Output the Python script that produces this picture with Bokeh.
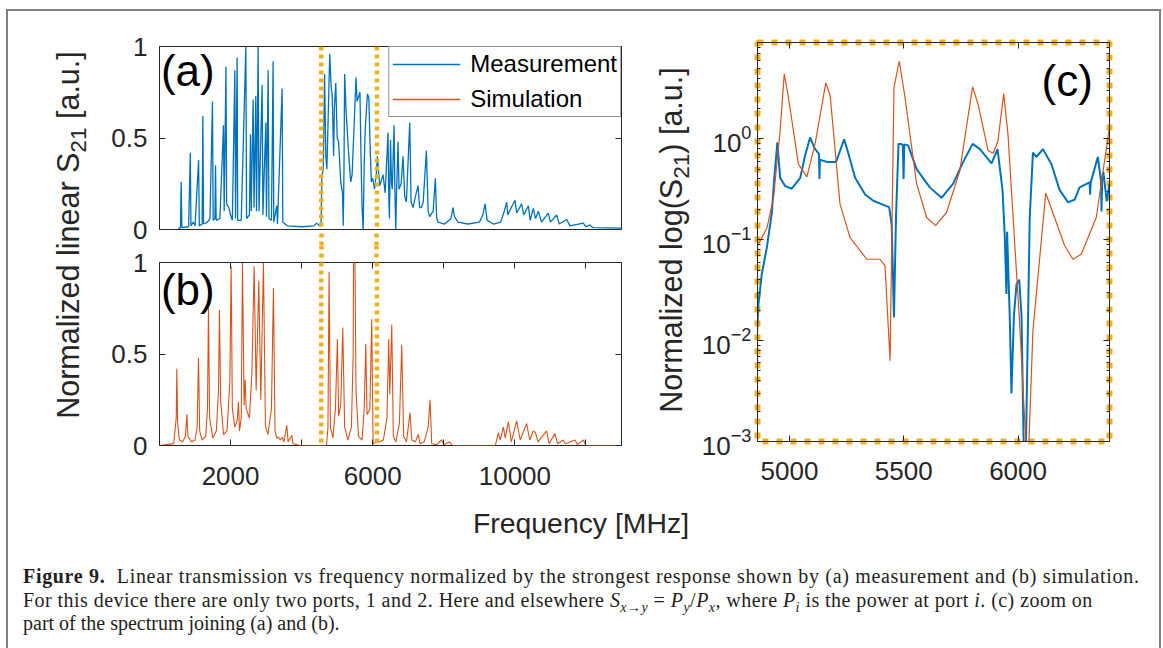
from bokeh.plotting import figure
from bokeh.models import (Span, Label, Legend, LegendItem, LinearAxis, LogAxis, FixedTicker,
                          CustomJSTickFormatter, Range1d, Div, Spacer)
from bokeh.layouts import row, column
from bokeh.embed import file_html
from bokeh.resources import INLINE

# ---------------- data ----------------
# (a) measured linear S21, normalized
a_freq = [530, 590, 610, 630, 820, 866, 885, 950, 1000, 1100, 1120, 1200, 1220, 1240, 1350, 1420,
          1491, 1510, 1560, 1576, 1595, 1700, 1800, 1820, 1870, 1890, 1950, 2000, 2050, 2120, 2140,
          2185, 2200, 2300, 2430, 2450, 2530, 2560, 2580, 2635, 2660, 2710, 2730, 2776, 2800, 2888,
          2910, 2992, 3010, 3057, 3080, 3150, 3197, 3215, 3300, 3320, 3450, 3470, 3600, 4000, 4350,
          4420, 4500, 4545, 4570, 4610, 4645, 4680, 4710, 4790, 4830, 4860, 4900, 4920, 4960, 5000,
          5040, 5100, 5150, 5170, 5190, 5210, 5250, 5310, 5380, 5420, 5530, 5560, 5640, 5670, 5700,
          5730, 5760, 5790, 5850, 5890, 5920, 5960, 6000, 6050, 6100, 6130, 6170, 6200, 6290, 6350,
          6430, 6450, 6470, 6500, 6530, 6550, 6600, 6625, 6648, 6670, 6713, 6740, 6800, 6853, 6900,
          6947, 7041, 7080, 7135, 7200, 7275, 7320, 7369, 7420, 7510, 7560, 7603, 7700, 7762, 7800,
          7838, 8025, 8200, 8259, 8300, 8400, 8681, 9000, 9100, 9160, 9220, 9400, 9600, 9700, 9770,
          9800, 9900, 10003, 10050, 10190, 10250, 10380, 10430, 10518, 10580, 10660, 10750, 10940,
          11000, 11175, 11250, 11457, 11550, 11925, 12000, 12110, 12200, 13000]
a_norm = [0.005, 0.01, 0.26, 0.01, 0.015, 0.42, 0.02, 0.04, 0.02, 0.38, 0.02, 0.03, 0.62, 0.03, 0.04, 0.06,
          0.70, 0.05, 0.06, 0.35, 0.05, 0.06, 0.57, 0.10, 0.89, 0.14, 0.12, 0.08, 0.05, 0.87, 0.06,
          0.94, 0.05, 0.05, 1.0, 0.06, 0.08, 0.52, 0.10, 0.71, 0.12, 0.73, 0.10, 1.0, 0.10, 0.79,
          0.08, 0.585, 0.07, 0.87, 0.06, 0.05, 0.92, 0.04, 0.13, 0.03, 0.77, 0.04, 0.02, 0.015, 0.02,
          0.035, 0.02, 0.02, 0.30, 0.33, 0.85, 0.40, 0.33, 0.96, 0.78, 0.73, 0.40, 0.66, 0.80, 0.50,
          0.48, 0.26, 0.20, 0.02, 0.30, 0.85, 0.65, 0.45, 0.26, 0.30, 0.83, 0.70, 0.75, 0.40, 0.12,
          0.0, 0.35, 0.55, 0.74, 0.72, 0.50, 0.26, 0.28, 0.22, 0.30, 0.40, 0.30, 0.24, 0.30, 0.20,
          0.53, 0.20, 0.06, 0.49, 0.25, 0.22, 0.57, 0.20, 0.0, 0.20, 0.48, 0.22, 0.25, 0.40, 0.18,
          0.15, 0.585, 0.15, 0.12, 0.18, 0.24, 0.12, 0.12, 0.15, 0.43, 0.10, 0.07, 0.10, 0.28, 0.06,
          0.04, 0.03, 0.06, 0.12, 0.07, 0.04, 0.03, 0.04, 0.08, 0.14, 0.05, 0.03, 0.04, 0.10, 0.15,
          0.08, 0.12, 0.16, 0.09, 0.14, 0.08, 0.13, 0.05, 0.115, 0.06, 0.10, 0.04, 0.09,
          0.04, 0.08, 0.03, 0.055, 0.02, 0.035, 0.015, 0.025, 0.01, 0.008]

# (b) simulated linear S21, normalized
b_freq = [0, 400, 470, 488, 510, 560, 650, 730, 770, 800, 900, 1000, 1060, 1097, 1130, 1200, 1300,
          1350, 1378, 1410, 1500, 1600, 1660, 1687, 1720, 1800, 1900, 1980, 2016, 2050, 2120, 2190,
          2222, 2250, 2300, 2335, 2380, 2410, 2440, 2530, 2600, 2663, 2720, 2794, 2850, 2925, 2980,
          3050, 3150, 3206, 3250, 3300, 3350, 3400, 3450, 3500, 3582, 3620, 3722, 3760, 3850, 3950,
          4700, 4740, 4772, 4810, 4880, 4950, 5006, 5040, 5100, 5157, 5210, 5300, 5400, 5450, 5460,
          5500, 5530, 5600, 5700, 5760, 5804, 5840, 5920, 5972, 6010, 6100, 6200, 6300, 6400, 6451,
          6480, 6535, 6580, 6650, 6750, 6816, 6870, 6950, 7050, 7100, 7200, 7280, 7330, 7450, 7560,
          7613, 7660, 7800, 7934, 8000, 8160, 8250, 9450, 9535, 9590, 9675, 9730, 9816, 9900, 10050,
          10150, 10331, 10420, 10518, 10580, 10650, 10893, 10960, 11127, 11200, 11362, 11420, 11690,
          11760, 11925, 12000, 13000]
b_norm = [0.0, 0.01, 0.15, 0.42, 0.12, 0.03, 0.02, 0.05, 0.17, 0.05, 0.02, 0.03, 0.10, 0.48, 0.08, 0.03, 0.05,
          0.20, 0.75, 0.15, 0.04, 0.08, 0.30, 0.74, 0.25, 0.06, 0.08, 0.35, 0.98, 0.20, 0.10, 0.14,
          0.24, 0.08, 0.15, 1.0, 0.22, 0.36, 0.20, 0.15, 0.40, 0.98, 0.30, 0.90, 0.25, 1.0, 0.11,
          0.06, 0.20, 0.86, 0.08, 0.04, 0.045, 0.03, 0.045, 0.02, 0.11, 0.02, 0.055, 0.01, 0.005, 0.0,
          0.0, 0.10, 0.95, 0.10, 0.04, 0.20, 0.58, 0.16, 0.22, 0.645, 0.10, 0.03, 0.10, 0.50, 1.0,
          1.0, 0.30, 0.05, 0.03, 0.20, 0.555, 0.17, 0.20, 0.69, 0.01, 0.02, 0.02, 0.03, 0.15, 0.58,
          0.28, 0.66, 0.05, 0.02, 0.12, 0.55, 0.05, 0.02, 0.18, 0.03, 0.02, 0.06, 0.01, 0.02, 0.10,
          0.25, 0.01, 0.005, 0.03, 0.005, 0.02, 0.0, 0.0, 0.07, 0.03, 0.10, 0.04, 0.13, 0.02, 0.135,
          0.03, 0.12, 0.03, 0.08, 0.07, 0.02, 0.08, 0.01, 0.065, 0.01, 0.03, 0.01, 0.03,
          0.005, 0.03, 0.0, 0.0]

# (c) zoom, log scale
c_meas_freq = [4857, 4864, 4879, 4901, 4923, 4933, 4947, 4959, 4981, 5010, 5047, 5068, 5090, 5112,
               5129, 5131, 5133, 5163, 5204, 5239, 5258, 5287, 5331, 5367, 5403, 5436, 5447, 5457,
               5466, 5477, 5490, 5496, 5499, 5502, 5519, 5556, 5614, 5665, 5716, 5760, 5801, 5833,
               5884, 5910, 5932, 5942, 5949, 5952, 5964, 5971, 5982, 5993, 6005, 6015, 6025, 6034,
               6051, 6065, 6080, 6109, 6146, 6182, 6219, 6248, 6269, 6313, 6315, 6318, 6349, 6363,
               6365, 6368, 6373, 6388, 6400]
c_meas_norm = [0.0108, 0.023, 0.046, 0.084, 0.187, 0.40, 0.92, 0.41, 0.34, 0.32, 0.41, 0.68, 1.03, 0.79,
               0.71, 0.40, 0.62, 0.59, 0.59, 0.99, 0.71, 0.41, 0.28, 0.243, 0.225, 0.21, 0.143, 0.017,
               0.17, 0.89, 0.89, 0.85, 0.40, 0.88, 0.86, 0.50, 0.33, 0.26, 0.36, 0.59, 0.89, 0.79,
               0.57, 0.79, 0.31, 0.105, 0.029, 0.12, 0.016, 0.003, 0.018, 0.036, 0.04, 0.018, 0.0008, 0.0008,
               0.166, 0.73, 0.66, 0.79, 0.56, 0.31, 0.234, 0.25, 0.33, 0.37, 0.28, 0.37, 0.66, 0.38,
               0.19, 0.40, 0.47, 0.24, 0.36]
c_sim_freq = [4857, 4901, 4930, 4959, 4977, 4995, 5039, 5076, 5112, 5159, 5178, 5221, 5265, 5338,
              5396, 5418, 5440, 5457, 5480, 5505, 5556, 5600, 5639, 5687, 5745, 5801, 5825, 5869,
              5891, 5912, 5937, 5956, 6007, 6036, 6046, 6065, 6121, 6204, 6240, 6277, 6342, 6400]
c_sim_norm = [0.084, 0.13, 0.26, 1.2, 4.4, 2.6, 0.56, 0.42, 0.89, 3.6, 2.67, 0.225, 0.105, 0.064,
              0.064, 0.055, 0.0063, 3.2, 5.9, 2.6, 0.36, 0.166, 0.138, 0.186, 0.48, 3.27, 2.2, 0.76,
              0.72, 0.95, 2.8, 1.1, 0.0147, 0.0008, 0.0008, 0.0125, 0.29, 0.087, 0.064, 0.072, 0.166, 1.3]

zoom_marks = [4550, 6120]
ab_x_range = (0, 13000)
ab_x_ticks = [2000, 4000, 6000, 8000, 10000, 12000]
ab_x_labeled = [2000, 6000, 10000]
ab_y_ticks = [0, 0.5, 1]
c_x_range = (4860, 6400)
c_y_range = (0.001, 9)
c_x_ticks = [5000, 5500, 6000]
c_y_ticks = [0.001, 0.01, 0.1, 1]
c_y_minor = [m * d for d in c_y_ticks for m in range(2, 10)]
legend_labels = ["Measurement", "Simulation"]

# ---------------- style ----------------
BLUE = "#0072BD"
ORANGE = "#D95319"
YELLOW = "#EDB120"
AX = "#262626"
FONT = "Liberation Sans"
TICK_PX = "26px"
NAN = float("nan")


def base_fig(w, h, xr, yr, bl, br, bt, bb, **kw):
    p = figure(width=w, height=h, x_range=Range1d(*xr), y_range=Range1d(*yr),
               output_backend="svg", toolbar_location=None,
               min_border_left=bl, min_border_right=br, min_border_top=bt, min_border_bottom=bb, **kw)
    p.grid.visible = False
    p.background_fill_color = "white"
    p.border_fill_color = "white"
    p.outline_line_color = AX
    p.outline_line_width = 1
    p.outline_line_alpha = 1
    return p


def tick_style(ax, tick_in=6, line=None):
    ax.major_tick_in = tick_in
    ax.major_tick_out = 0
    ax.minor_tick_in = 0
    ax.minor_tick_out = 0
    ax.major_tick_line_color = AX
    ax.major_tick_line_width = 1
    ax.axis_line_color = line
    ax.axis_line_width = 1


def label_style(ax, standoff):
    ax.major_label_text_font = FONT
    ax.major_label_text_font_size = TICK_PX
    ax.major_label_text_color = AX
    ax.major_label_standoff = standoff


def hide_labels(ax):
    ax.formatter = CustomJSTickFormatter(code="return ''")
    ax.major_label_text_font_size = "0px"
    ax.major_label_standoff = 0


def connector_axis(out_px, minor=None):
    ax = LinearAxis(ticker=FixedTicker(ticks=zoom_marks, minor_ticks=minor or []))
    ax.major_tick_in = 0
    ax.major_tick_out = out_px
    ax.major_tick_line_color = YELLOW
    ax.major_tick_line_width = 4.5
    ax.major_tick_line_dash = "4 4"
    ax.minor_tick_in = 6 if minor else 0
    ax.minor_tick_out = 0
    ax.minor_tick_line_color = AX
    ax.minor_tick_line_width = 1
    ax.axis_line_color = None
    hide_labels(ax)
    return ax


y_fmt = CustomJSTickFormatter(code="return tick.toString()")

# ---------------- panel (a) ----------------
pa = base_fig(531, 234, ab_x_range, (0, 1), 59, 10, 35, 16, x_axis_location=None)
tick_style(pa.yaxis[0])
label_style(pa.yaxis[0], 12)
pa.yaxis[0].ticker = FixedTicker(ticks=ab_y_ticks, minor_ticks=[])
pa.yaxis[0].formatter = y_fmt
ra = LinearAxis(ticker=FixedTicker(ticks=ab_y_ticks, minor_ticks=[]))
tick_style(ra)
hide_labels(ra)
pa.add_layout(ra, "right")
pa.add_layout(connector_axis(16), "below")

r_meas = pa.line(a_freq, a_norm, line_color=BLUE, line_width=1.3)
# legend key only (no visible mark in this panel)
r_sim_key = pa.line([NAN], [NAN], line_color=ORANGE, line_width=1.5)
for f in zoom_marks:
    pa.add_layout(Span(location=f, dimension="height", line_color=YELLOW,
                       line_width=4.5, line_dash="4 4"))
pa.add_layout(Label(x=40, y=0.87, text="(a)", text_font=FONT, text_font_size="44px",
                    text_baseline="middle", text_align="left", text_color="black"))
legend = Legend(items=[LegendItem(label=legend_labels[0], renderers=[r_meas]),
                       LegendItem(label=legend_labels[1], renderers=[r_sim_key])],
                location="top_right", margin=0, padding=3, spacing=7, glyph_width=68,
                glyph_height=24, label_height=24, label_standoff=10,
                label_text_font=FONT, label_text_font_size="24px", label_text_color="black",
                border_line_color=AX, border_line_width=1, background_fill_alpha=1.0)
pa.add_layout(legend)

# ---------------- panel (b) ----------------
pb = base_fig(531, 245, ab_x_range, (0, 1), 59, 10, 17, 45)
xb = pb.xaxis[0]
xb.ticker = FixedTicker(ticks=ab_x_ticks, minor_ticks=[])
xb.formatter = CustomJSTickFormatter(args=dict(shown=ab_x_labeled),
                                     code="return shown.includes(tick) ? String(tick) : ''")
tick_style(xb)
label_style(xb, 21)
tick_style(pb.yaxis[0])
label_style(pb.yaxis[0], 12)
pb.yaxis[0].ticker = FixedTicker(ticks=ab_y_ticks, minor_ticks=[])
pb.yaxis[0].formatter = y_fmt
rb = LinearAxis(ticker=FixedTicker(ticks=ab_y_ticks, minor_ticks=[]))
tick_style(rb)
hide_labels(rb)
pb.add_layout(rb, "right")
pb.add_layout(connector_axis(17, minor=ab_x_ticks), "above")

pb.line(b_freq, b_norm, line_color=ORANGE, line_width=1.1)
for f in zoom_marks:
    pb.add_layout(Span(location=f, dimension="height", line_color=YELLOW,
                       line_width=4.5, line_dash="4 4"))
pb.add_layout(Label(x=40, y=0.854, text="(b)", text_font=FONT, text_font_size="44px",
                    text_baseline="middle", text_align="left", text_color="black"))

# ---------------- panel (c) ----------------
pc = base_fig(469, 479, c_x_range, c_y_range, 67, 50, 31, 49, y_axis_type="log")
xc = pc.xaxis[0]
xc.ticker = FixedTicker(ticks=c_x_ticks, minor_ticks=[])
tick_style(xc, line=AX)
label_style(xc, 20)
yc = pc.yaxis[0]
yc.ticker = FixedTicker(ticks=c_y_ticks, minor_ticks=c_y_minor)
tick_style(yc, line=AX)
yc.minor_tick_in = 3
yc.minor_tick_line_color = AX
label_style(yc, 6)
rc = LogAxis(ticker=FixedTicker(ticks=c_y_ticks, minor_ticks=c_y_minor))
tick_style(rc, line=AX)
rc.minor_tick_in = 3
rc.minor_tick_line_color = AX
hide_labels(rc)
pc.add_layout(rc, "right")
tc = LinearAxis(ticker=FixedTicker(ticks=c_x_ticks, minor_ticks=[]))
tick_style(tc, line=AX)
hide_labels(tc)
pc.add_layout(tc, "above")
pc.outline_line_color = YELLOW
pc.outline_line_width = 6
pc.outline_line_dash = "6 8"

pc.line(c_meas_freq, c_meas_norm, line_color=BLUE, line_width=2)
pc.line(c_sim_freq, c_sim_norm, line_color=ORANGE, line_width=1.2)
pc.add_layout(Label(x=6103, y=3.81, text="(c)", text_font=FONT, text_font_size="44px",
                    text_baseline="middle", text_align="left", text_color="black"))


# ---------------- texts outside the axes ----------------
def vlabel(inner, w, h, cx, cy):
    html = (f'<div style="position:relative;width:{w}px;height:{h}px;">'
            f'<div style="position:absolute;left:{cx}px;top:{cy}px;'
            f'transform:translate(-50%,-50%) rotate(-90deg);white-space:nowrap;'
            f"font-family:'Liberation Sans';font-size:30.5px;color:{AX};line-height:1.1;\">"
            f'{inner}</div></div>')
    return Div(text=html, width=w, height=h, margin=0)


SUB = '<sub style="font-size:0.74em;line-height:0;">21</sub>'
label_ab = vlabel(f"Normalized linear S{SUB} [a.u.]", 92, 479, 61, 224)
label_c = vlabel(f"Normalized log(S{SUB}) [a.u.]", 59, 479, 41, 229)

freq_div = Div(text=(f'<div style="position:relative;width:1151px;height:60px;">'
                     f'<div style="position:absolute;left:573px;top:33px;transform:translate(-50%,-50%);'
                     f"white-space:nowrap;font-family:'Liberation Sans';font-size:28.4px;color:{AX};\">"
                     f'Frequency [MHz]</div></div>'), width=1151, height=60, margin=0)

SUBS = '<sub style="line-height:0;font-size:0.7em;">'
caption_html = (
    "<div style=\"padding:15px 0 0 15px;font-family:'Liberation Serif';font-size:20px;"
    "line-height:23.5px;color:#231f20;white-space:nowrap;\">"
    "<span style=\"letter-spacing:0.68px;\"><b>Figure 9.</b>&nbsp; Linear transmission vs frequency normalized "
    "by the strongest response shown by (a) measurement and (b) simulation.</span><br>"
    "<span style=\"letter-spacing:0.45px;\">For this device there are only two ports, 1 and 2. Here and elsewhere "
    f"<i>S</i>{SUBS}<i>x</i>&rarr;<i>y</i></sub> = "
    f"<i>P</i>{SUBS}<i>y</i></sub>/<i>P</i>{SUBS}<i>x</i></sub>, where "
    f"<i>P</i>{SUBS}<i>i</i></sub> is the power at port <i>i</i>. (c) zoom on</span><br>"
    "part of the spectrum joining (a) and (b).</div>")
caption_div = Div(text=caption_html, width=1151, height=87, margin=0)

GRAY = "#808080"
top_line = row(Spacer(width=6, height=2), Div(text="", width=1155, height=2, margin=0,
                                              styles={"background-color": GRAY}))
left_line = Div(text="", width=2, height=637, margin=0, styles={"background-color": GRAY})
right_line = Div(text="", width=2, height=637, margin=0, styles={"background-color": GRAY})

plots_row = row(label_ab, column(pa, pb), label_c, pc)
content = column(plots_row, freq_div, caption_div)
page = column(Spacer(width=1163, height=9), top_line,
              row(Spacer(width=6, height=637), left_line, content, right_line))

open("out.html", "w").write(file_html(page, INLINE))
